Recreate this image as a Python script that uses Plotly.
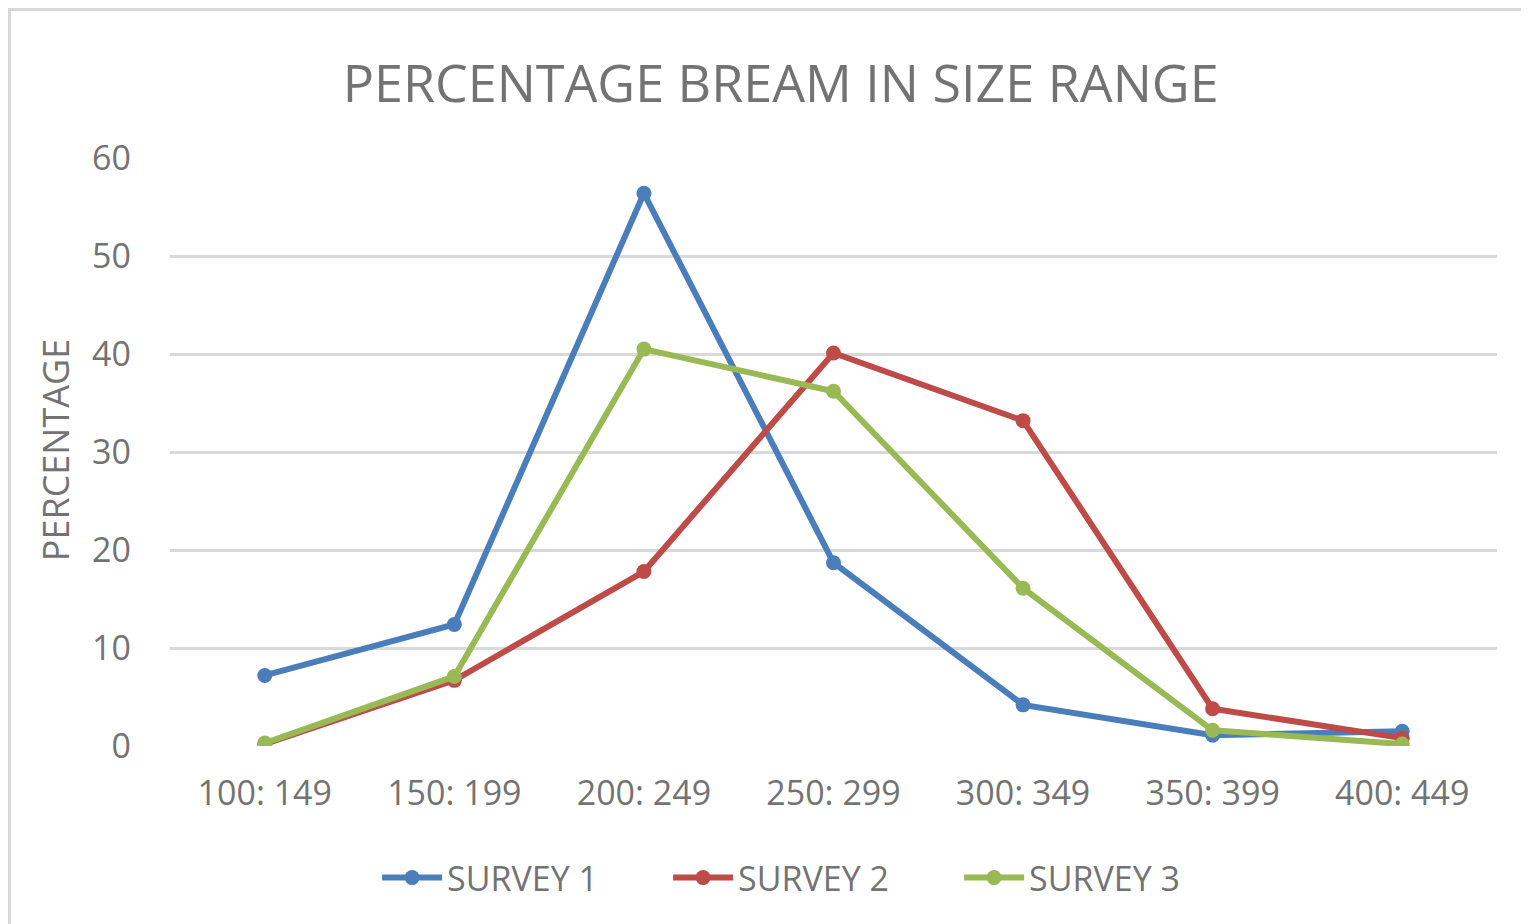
import plotly.graph_objects as go

# size ranges (mm) on the x axis
size_ranges = ['100: 149', '150: 199', '200: 249', '250: 299', '300: 349', '350: 399', '400: 449']

# percentage of bream in each size range, per survey
survey_1 = [7.2, 12.4, 56.4, 18.7, 4.2, 1.1, 1.5]
survey_2 = [0.2, 6.7, 17.8, 40.1, 33.2, 3.8, 0.8]
survey_3 = [0.3, 7.1, 40.5, 36.2, 16.1, 1.6, 0.2]

y_ticks = [0, 10, 20, 30, 40, 50, 60]

series = [
    ('SURVEY 1', survey_1, '#4a7ebb'),
    ('SURVEY 2', survey_2, '#be4b48'),
    ('SURVEY 3', survey_3, '#98b954'),
]

text_color = '#737373'
font_family = 'Open Sans, Noto Sans, sans-serif'

fig = go.Figure()

for name, values, color in series:
    fig.add_trace(go.Scatter(x=size_ranges,
                             y=values,
                             name=name,
                             mode='lines+markers',
                             line=dict(color=color, width=6),
                             marker=dict(color=color, size=15)))

# page body has an 8px margin, so the figure is 8px smaller than the window
fig.update_layout(
    width=1521,
    height=916,
    margin=dict(l=162, r=32, t=150, b=178),
    paper_bgcolor='white',
    plot_bgcolor='white',
    font=dict(family=font_family, color=text_color),
    title=dict(text='PERCENTAGE BREAM IN SIZE RANGE',
               x=0.508, xanchor='center', y=0.917, yanchor='middle',
               font=dict(size=52, color=text_color)),
    showlegend=True,
    legend=dict(orientation='h', x=0.485, xanchor='center',
                y=-0.2245, yanchor='middle',
                font=dict(size=34, color=text_color),
                itemwidth=60, entrywidth=216, entrywidthmode='pixels',
                traceorder='normal'),
)

fig.update_xaxes(type='category', range=[-0.5, 6.5],
                 showgrid=False, showline=False, zeroline=False,
                 ticks='', ticklabelstandoff=24,
                 tickfont=dict(size=34, color=text_color))

fig.update_yaxes(range=[0, 60], tickvals=y_ticks,
                 showgrid=True, gridcolor='#d9d9d9', gridwidth=3,
                 zeroline=False, showline=False, ticks='',
                 ticklabelstandoff=38,
                 tickfont=dict(size=34, color=text_color))

# y axis title placed by hand, like the spreadsheet one
fig.add_annotation(text='PERCENTAGE', textangle=-90,
                   xref='paper', yref='paper', x=-0.0867, y=0.503,
                   xanchor='center', yanchor='middle', showarrow=False,
                   font=dict(size=36, color=text_color))

# outer chart frame, as in the spreadsheet picture
fig.add_shape(type='rect', xref='paper', yref='paper',
              x0=-0.121, x1=1.2, y0=-0.6, y1=1.2526,
              line=dict(color='#d9d9d9', width=3), layer='below')

fig.write_html("out.html")
